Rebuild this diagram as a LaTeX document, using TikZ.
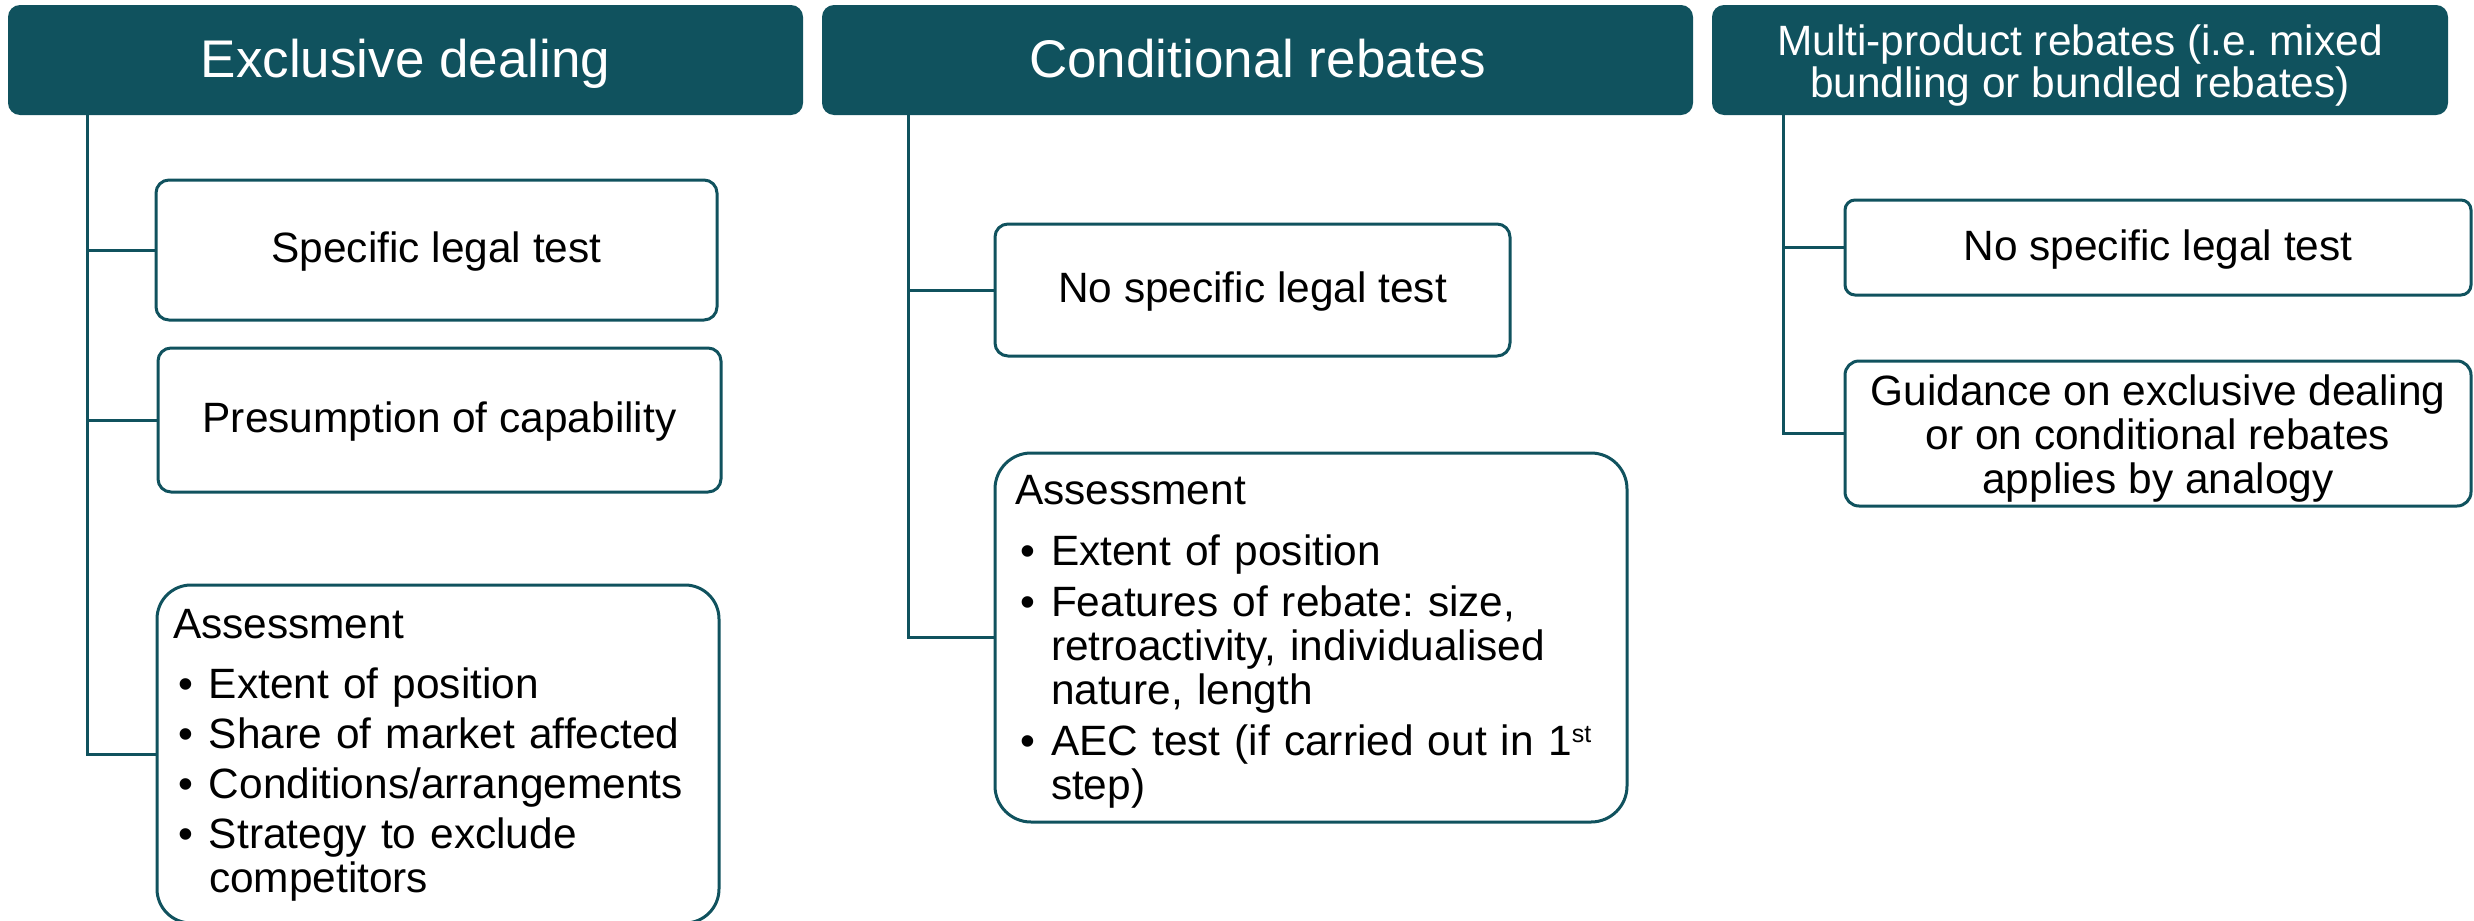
\documentclass[tikz,border=0pt]{standalone}
\usepackage{fontspec}
\setmainfont{Liberation Sans}
\frenchspacing
\definecolor{tealdark}{RGB}{16,82,94}
\newcommand\bitem[1]{\par\hangindent=36pt\hangafter=1\noindent\makebox[36pt][l]{\hspace{5pt}\textbullet}#1\par}
\newcommand\asshead[1]{\noindent\rule{0pt}{#1}Assessment\par\vspace{10pt}}
\begin{document}
\begin{tikzpicture}[x=1pt,y=-1pt,
  hdr/.style={fill=tealdark, rounded corners=12pt, text=white, align=center,
    inner sep=0pt, outer sep=0pt, font=\fontsize{53pt}{56pt}\selectfont},
  itembox/.style={draw=tealdark, line width=3pt, rounded corners=13pt, fill=white,
    align=center, inner sep=0pt, outer sep=0pt, font=\fontsize{42.4pt}{44pt}\selectfont},
  onetext/.style={text height=35pt, text depth=10pt},
  listbox/.style={itembox, align=left, rounded corners=34pt},
  link/.style={draw=tealdark, line width=3pt}]
\useasboundingbox (0,0) rectangle (2474,921);
\clip (0,0) rectangle (2474,921);

% headers
\node[hdr, minimum width=795pt, minimum height=110pt, text height=45pt, text depth=11pt] (h1) at (405.5,60) {Exclusive dealing};
\node[hdr, minimum width=871pt, minimum height=110pt, text height=45pt, text depth=11pt] (h2) at (1257.5,60) {Conditional rebates};
\node[hdr, minimum width=736pt, minimum height=110pt,
  font=\fontsize{42.4pt}{41.6pt}\selectfont] (h3) at (2080,60)
  {\rule{0pt}{42pt}Multi-product rebates (i.e. mixed\\bundling or bundled rebates)};

% trunk starts
\coordinate (t1) at (87,115);
\coordinate (t2) at (908,115);
\coordinate (t3) at (1783,115);

% column 1
\node[itembox, onetext, minimum width=561pt, minimum height=140pt] (b1a) at (436.5,250) {Specific legal test};
\node[itembox, onetext, minimum width=563pt, minimum height=144pt] (b1b) at (439.5,420) {Presumption of capability};
\node[listbox, minimum width=562pt, minimum height=338pt, text width=530pt] (b1c) at (438,754)
  {\setlength{\parskip}{6pt}\asshead{31pt}
   \bitem{Extent of position}
   \bitem{Share of market affected}
   \bitem{Conditions/arrangements}
   \bitem{Strategy to exclude\newline competitors}};

% column 2
\node[itembox, onetext, minimum width=515pt, minimum height=132pt] (b2a) at (1252.5,290) {No specific legal test};
\node[listbox, rounded corners=36pt, minimum width=632pt, minimum height=369pt, text width=592pt] (b2b) at (1311,637.5)
  {\setlength{\parskip}{7pt}\asshead{37pt}
   \bitem{Extent of position}
   \bitem{Features of rebate: size,\newline retroactivity, individualised\newline nature, length}
   \bitem{AEC test (if carried out in 1\raisebox{13pt}{\fontsize{25pt}{25pt}\selectfont st}\newline step)}};

% column 3
\node[itembox, onetext, rounded corners=10pt, minimum width=626pt, minimum height=95pt] (b3a) at (2158,247.5) {No specific legal test};
\node[itembox, rounded corners=14pt, minimum width=626pt, minimum height=145pt,
  font=\fontsize{42.4pt}{44pt}\selectfont] (b3b) at (2158,433.5)
  {\rule{0pt}{40pt}Guidance on exclusive dealing\\or on conditional rebates\\applies by analogy};

% connectors
\draw[link] (t1) |- (b1a.west);
\draw[link] (t1) |- (b1b.west);
\draw[link] (t1) |- (b1c.west);
\draw[link] (t2) |- (b2a.west);
\draw[link] (t2) |- (b2b.west);
\draw[link] (t3) |- (b3a.west);
\draw[link] (t3) |- (b3b.west);
\end{tikzpicture}
\end{document}
